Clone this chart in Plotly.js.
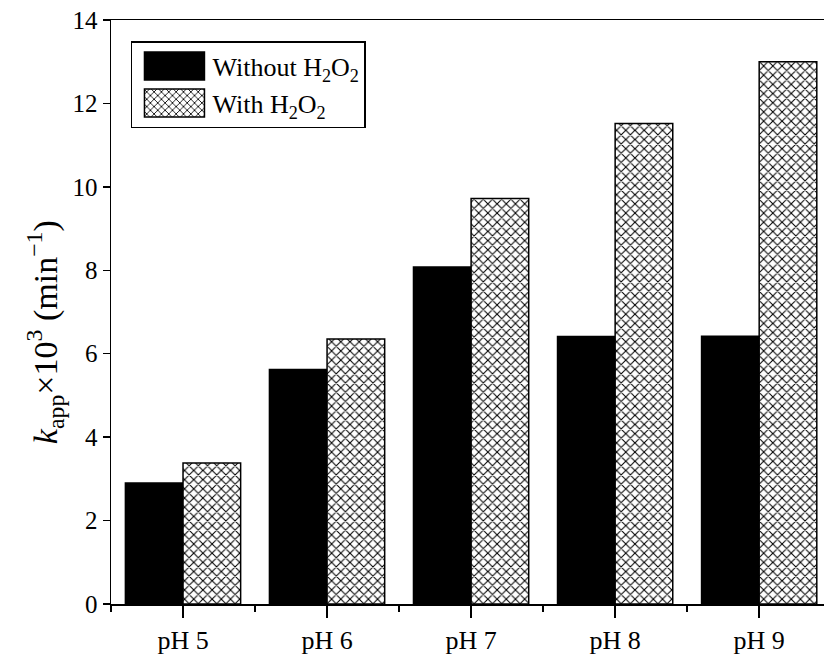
<!DOCTYPE html>
<html><head><meta charset="utf-8">
<script src="https://cdn.plot.ly/plotly-3.0.1.min.js"></script>
<style>html,body{margin:0;padding:0;background:#fff}</style>
</head><body><div id="chart" style="width:824px;height:654px"></div>
<script>
const categories = ['pH 5', 'pH 6', 'pH 7', 'pH 8', 'pH 9'];
const withoutH2O2 = [2.90, 5.62, 8.08, 6.41, 6.42];
const withH2O2 = [3.38, 6.35, 9.72, 11.52, 13.00];
const yTicks = [0, 2, 4, 6, 8, 10, 12, 14];
const seriesNames = ['Without H<sub>2</sub>O<sub>2</sub>', 'With H<sub>2</sub>O<sub>2</sub>'];
const yTitle = '<i>k</i><sub>app</sub>×10<sup>3</sup> (min<sup>−1</sup>)';

const xIdx = categories.map((_, i) => i);
const boundaries = categories.map((_, i) => i - 0.5).concat([categories.length - 0.5]);
const FONT = '"Liberation Serif", "Times New Roman", serif';

const traces = [
  {type: 'bar', x: xIdx, y: withoutH2O2, name: seriesNames[0], legendgroup: 'a',
   marker: {color: '#000', line: {color: '#000', width: 1.5}}},
  {type: 'bar', x: xIdx, y: withH2O2, name: seriesNames[1], legendgroup: 'b',
   marker: {color: '#fff', line: {color: '#000', width: 1.5},
            pattern: {shape: 'x', fgcolor: '#000', bgcolor: '#fff', size: 6.5, solidity: 0.3}}}
];

const layout = {
  width: 824, height: 654,
  margin: {l: 111, r: 0, t: 20, b: 50},
  paper_bgcolor: '#fff', plot_bgcolor: '#fff',
  font: {family: FONT, color: '#000', size: 24},
  barmode: 'group', bargap: 0.2, bargroupgap: 0,
  showlegend: true,
  legend: {x: 0.028, y: 0.9637, xanchor: 'left', yanchor: 'top',
           bordercolor: '#000', borderwidth: 1.5, bgcolor: '#fff',
           font: {family: FONT, size: 26, color: '#000'},
           itemwidth: 70, tracegroupgap: 10, traceorder: 'normal'},
  xaxis: {range: [-0.5, 4.45], tickmode: 'array', tickvals: xIdx, ticktext: categories,
          ticks: 'outside', ticklen: 12, tickwidth: 1.5, tickcolor: '#000',
          showline: true, linewidth: 1.5, linecolor: '#000', mirror: true,
          showgrid: false, zeroline: false, tickfont: {size: 26},
          minor: {tickmode: 'array', tickvals: boundaries, ticks: 'outside', ticklen: 6, tickwidth: 1.5, tickcolor: '#000', showgrid: false}},
  yaxis: {range: [0, 14], tickmode: 'array', tickvals: yTicks,
          ticks: 'outside', ticklen: 7, tickwidth: 1.5, tickcolor: '#000',
          showline: true, linewidth: 1.5, linecolor: '#000', mirror: false,
          showgrid: false, zeroline: false, tickfont: {size: 25}},
  annotations: [{text: yTitle, xref: 'paper', yref: 'paper', x: -0.093, y: 0.465,
                 xanchor: 'center', yanchor: 'middle', textangle: -90, showarrow: false,
                 font: {family: FONT, size: 34, color: '#000'}}]
};

Plotly.newPlot('chart', traces, layout, {displayModeBar: false, staticPlot: true}).then(() => {
  document.querySelectorAll('.legend .legendpoints path').forEach(p => {
    p.setAttribute('d', 'M32,14H-28V-14H32Z');
  });
});
</script></body></html>
